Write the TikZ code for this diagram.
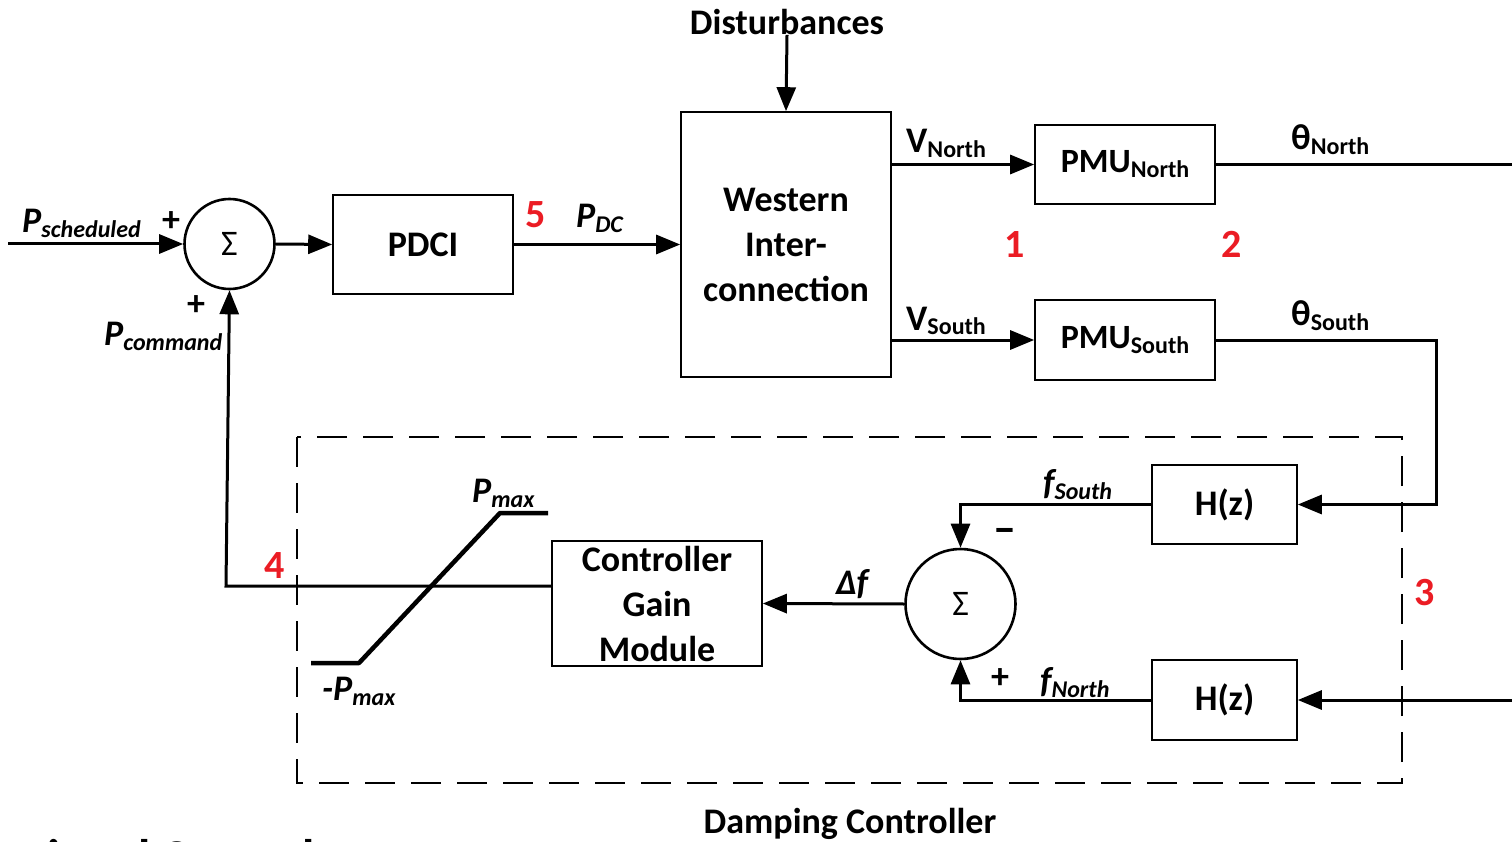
\documentclass[tikz,border=0pt]{standalone}
\usepackage{fontspec}
\setmainfont{Carlito}
\usetikzlibrary{arrows.meta}
\definecolor{numred}{RGB}{235,28,36}
\newcommand{\lsub}[2]{#1\raisebox{-5pt}{\fontsize{24}{24}\selectfont #2}}
\begin{document}
\begin{tikzpicture}[x=1pt,y=-1pt,
  box/.style={draw, line width=1.6pt, inner sep=0pt, align=center,
    font=\fontsize{36}{45}\selectfont\bfseries},
  sumc/.style={circle, draw, line width=2.6pt, inner sep=0pt,
    font=\fontsize{36}{36}\selectfont},
  conn/.style={line width=3pt, -{Triangle[length=24pt,width=19pt]}},
  plain/.style={line width=3pt},
  lab/.style={font=\fontsize{36}{45}\selectfont\bfseries, inner sep=0pt},
  labi/.style={font=\fontsize{36}{45}\selectfont\bfseries\itshape, inner sep=0pt},
  num/.style={font=\fontsize{40}{40}\selectfont\bfseries, text=numred, inner sep=0pt},
]
\clip (0,0) rectangle (1512,842);
\fill[white] (0,0) rectangle (1512,842);

% blocks
\node[box, minimum width=180pt, minimum height=99pt] (pdci) at (423,244.5) {PDCI};
\node[box, minimum width=210pt, minimum height=265pt] (wic) at (786,244.5) {Western\\Inter-\\connection};
\node[box, minimum width=180pt, minimum height=79pt, font=\fontsize{34}{40}\selectfont\bfseries] (pmun) at (1125,164.5) {PMU\raisebox{-5pt}{\fontsize{24}{24}\selectfont North}};
\node[box, minimum width=180pt, minimum height=80pt, font=\fontsize{34}{40}\selectfont\bfseries] (pmus) at (1125,340) {PMU\raisebox{-5pt}{\fontsize{24}{24}\selectfont South}};
\node[box, minimum width=145pt, minimum height=79pt] (hs) at (1224.5,504.5) {H(z)};
\node[box, minimum width=145pt, minimum height=80pt] (hn) at (1224.5,700) {H(z)};
\node[box, minimum width=210pt, minimum height=125pt] (cgm) at (657,603.5) {Controller\\Gain\\Module};
\node[sumc, minimum size=90pt] (sum1) at (229.5,244) {Σ};
\node[sumc, minimum size=110pt] (sum2) at (960.5,604) {Σ};

% texts
\node[lab] (dist) at (787,22) {Disturbances};
\node[lab] (damp) at (850,824) {Damping Controller};
\node[anchor=base west, inner sep=0pt, font=\fontsize{50}{50}\selectfont\bfseries] (conv) at (-124,874) {Conventional Control};

% coordinates
\coordinate (pin) at (8,244);
\coordinate (tn) at (1512,164.5);
\coordinate (ts) at (1436,340);
\coordinate (fin) at (1512,700);
\coordinate (c4) at (226,586);

% connectors
\draw[conn] (pin) -- (sum1.west);
\draw[conn] (sum1.east) -- (pdci.west);
\draw[conn] (pdci.east) -- (wic.west);
\draw[conn] (dist.south) -- (wic.north);
\draw[conn] (wic.east |- pmun) -- (pmun.west);
\draw[conn] (wic.east |- pmus) -- (pmus.west);
\draw[plain] (pmun.east) -- (tn);
\draw[conn] (pmus.east) -- (ts) |- (hs.east);
\draw[conn] (fin) -- (hn.east);
\draw[conn] (hs.west) -| (sum2.north);
\draw[conn] (hn.west) -| (sum2.south);
\draw[conn] (sum2.west) -- (cgm.east);
\draw[conn] (cgm.west |- c4) -- (c4) -- (sum1.south);

% saturation
\draw[line width=4.5pt, line join=round] (311,663) -- (359,663) -- (500,513) -- (548,513);

% damping controller frame
\draw[line width=2pt, dash pattern=on 30pt off 16pt] (297,437) rectangle (1402,783);

% labels
\node[labi, anchor=base west] (lps) at (22,233) {\lsub{P}{scheduled}};
\node[labi, anchor=base west] (lpc) at (104,345) {\lsub{P}{command}};
\node[lab] (pl1) at (171,222) {+};
\node[lab] (pl2) at (196,306) {+};
\node[labi, anchor=base west] (lpdc) at (576,228) {\lsub{P}{DC}};
\node[lab, anchor=base west] (lvn) at (906,153) {\lsub{V}{North}};
\node[lab, anchor=base west] (lvs) at (906,330) {\lsub{V}{South}};
\node[lab, anchor=base west] (ltn) at (1291,150) {\lsub{θ}{North}};
\node[lab, anchor=base west] (lts) at (1291,325) {\lsub{θ}{South}};
\node[labi, anchor=base west] (lfs) at (1043,494) {\lsub{f}{South}};
\node[labi, anchor=base west] (lfn) at (1040,692) {\lsub{f}{North}};
\node[lab, font=\fontsize{46}{46}\selectfont\bfseries] (mi) at (1005,536) {–};
\node[lab] (pl3) at (1000,679) {+};
\node[labi, anchor=base] (ldf) at (852,594) {Δf};
\node[labi, anchor=base west] (lpm) at (472,502) {\lsub{P}{max}};
\node[labi, anchor=base west] (lnpm) at (322,700) {-\lsub{P}{max}};

% red numbers
\node[num, anchor=base] (n5) at (536,228) {5};
\node[num, anchor=base] (n1) at (1015,258) {1};
\node[num, anchor=base] (n2) at (1232,258) {2};
\node[num, anchor=base] (n3) at (1425,605) {3};
\node[num, anchor=base] (n4) at (275,578) {4};
\end{tikzpicture}
\end{document}
